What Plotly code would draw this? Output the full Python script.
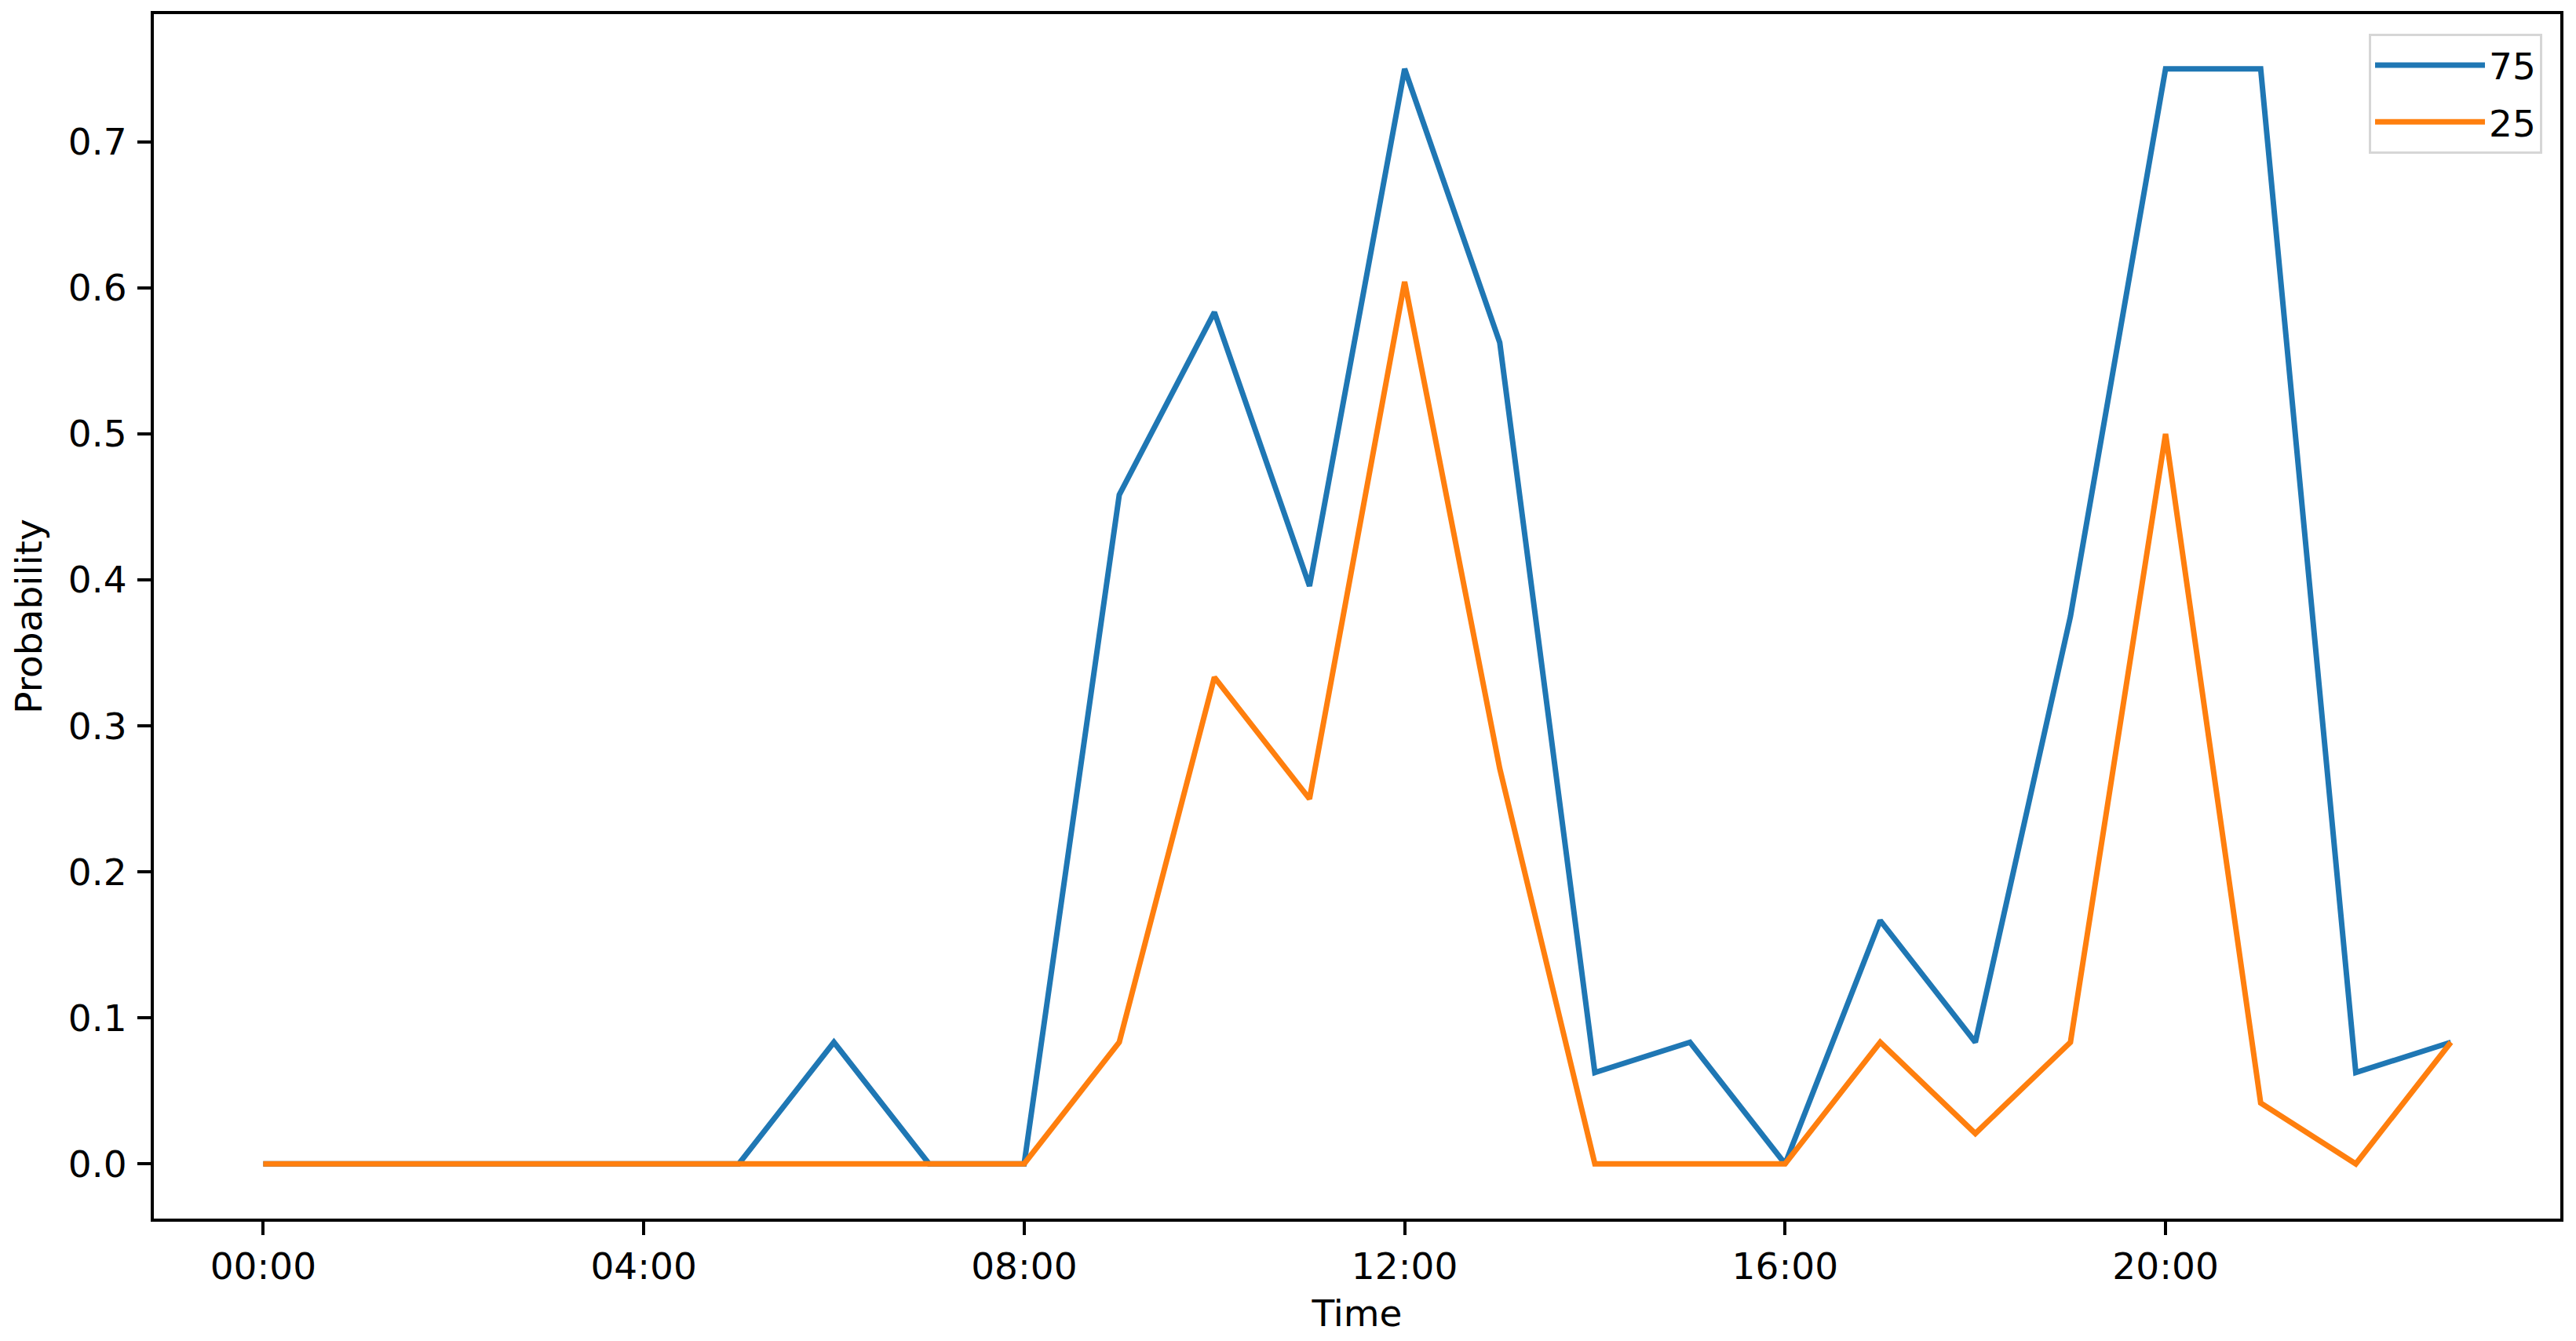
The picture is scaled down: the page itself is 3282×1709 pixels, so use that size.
import plotly.graph_objects as go

# Data
hours = list(range(24))
prob_75 = [0, 0, 0, 0, 0, 0, 0.0833, 0, 0, 0.4583, 0.5833, 0.3958, 0.75, 0.5625,
           0.0625, 0.0833, 0, 0.1667, 0.0833, 0.375, 0.75, 0.75, 0.0625, 0.0833]
prob_25 = [0, 0, 0, 0, 0, 0, 0, 0, 0, 0.0833, 0.3333, 0.25, 0.6042, 0.2708,
           0, 0, 0, 0.0833, 0.0208, 0.0833, 0.5, 0.0417, 0, 0.0833]
tick_hours = [0, 4, 8, 12, 16, 20]
tick_labels = ["00:00", "04:00", "08:00", "12:00", "16:00", "20:00"]
y_ticks = [0.0, 0.1, 0.2, 0.3, 0.4, 0.5, 0.6, 0.7]

FONT = "DejaVu Sans"
FS = 47

fig = go.Figure()
fig.add_trace(go.Scatter(x=hours, y=prob_75, mode="lines", name="75", legendgroup="a",
                         line=dict(color="#1f77b4", width=7)))
fig.add_trace(go.Scatter(x=hours, y=prob_25, mode="lines", name="25", legendgroup="b",
                         line=dict(color="#ff7f0e", width=7)))

axis_common = dict(showline=True, linecolor="black", linewidth=4, mirror=True,
                   ticks="outside", ticklen=17, tickwidth=4, tickcolor="black",
                   showgrid=False, zeroline=False,
                   tickfont=dict(family=FONT, size=FS, color="black"))

fig.update_xaxes(range=[-1.15, 24.15], tickvals=tick_hours, ticktext=tick_labels,
                 title=dict(text="Time", font=dict(family=FONT, size=FS, color="black"),
                            standoff=25),
                 ticklabelstandoff=0,
                 **axis_common)
fig.update_yaxes(range=[-0.0375, 0.7875], tickvals=y_ticks, tickformat=".1f",
                 title=dict(text="Probability", font=dict(family=FONT, size=FS, color="black"),
                            standoff=19),
                 ticklabelstandoff=4,
                 **axis_common)

fig.update_layout(
    width=3266, height=1693,
    margin=dict(l=188, r=12, t=10, b=148, autoexpand=False),
    paper_bgcolor="white", plot_bgcolor="white",
    font=dict(family=FONT, size=FS, color="black"),
    legend=dict(x=0.9925, y=0.9837, xanchor="right", yanchor="top",
                bgcolor="rgba(255,255,255,0.8)", bordercolor="#d6d6d6", borderwidth=3,
                font=dict(family=FONT, size=FS, color="black"),
                itemwidth=140, tracegroupgap=8),
    showlegend=True,
)

fig.write_html("out.html")
